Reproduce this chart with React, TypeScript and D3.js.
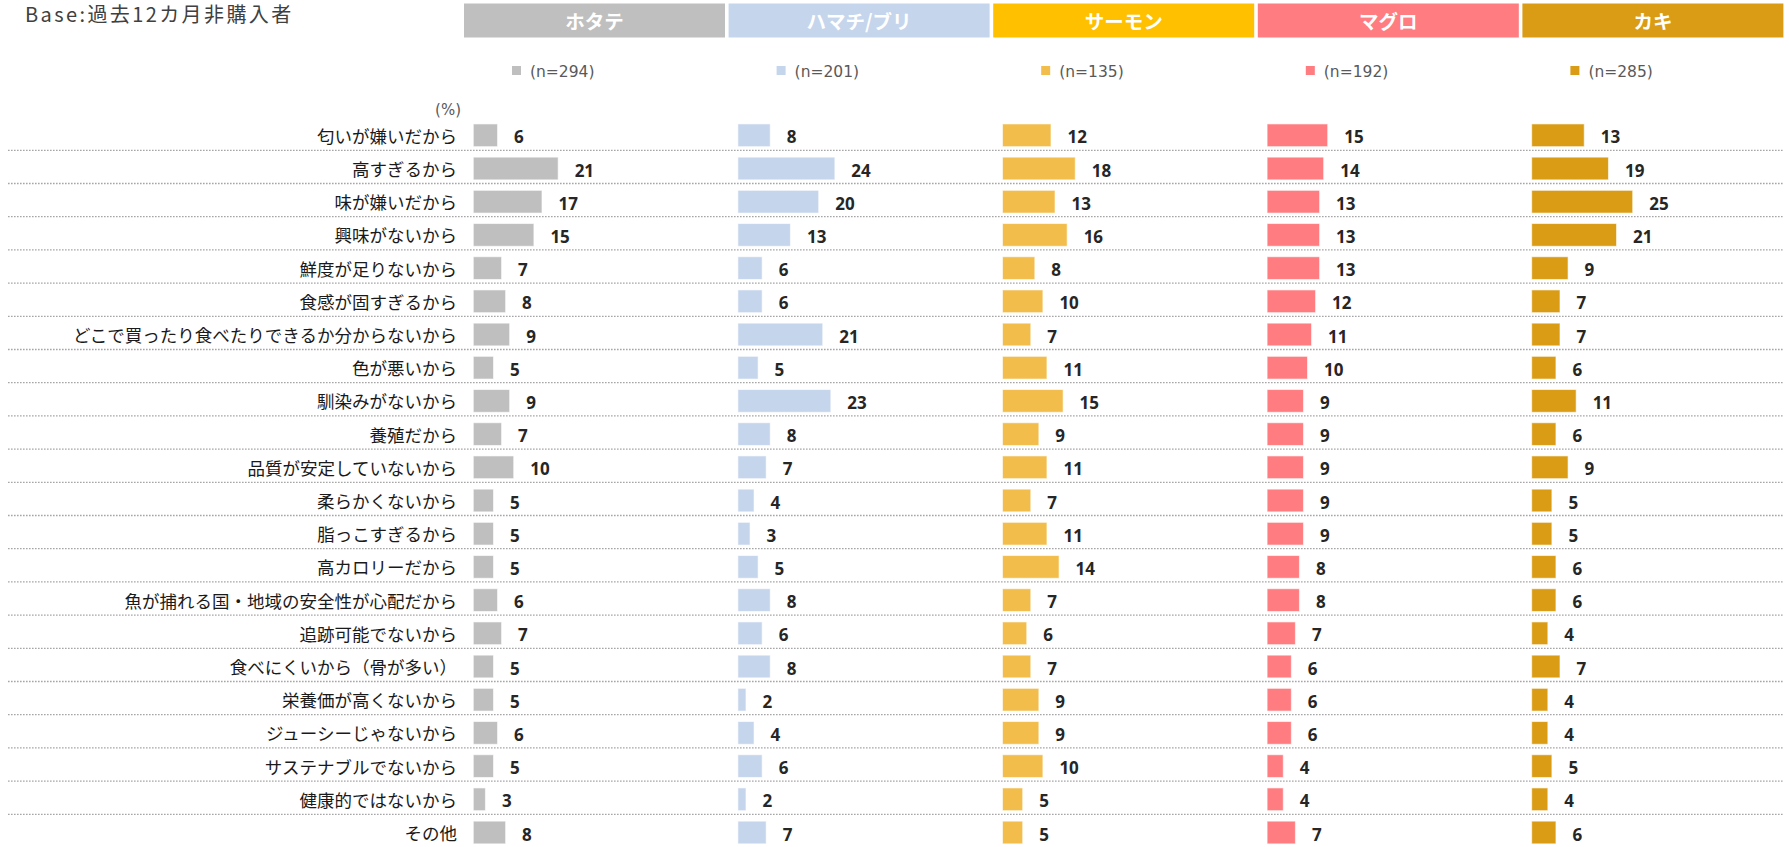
import React, { useEffect, useRef } from 'react';
import * as d3 from 'd3';

const categories = [
  '匂いが嫌いだから',
  '高すぎるから',
  '味が嫌いだから',
  '興味がないから',
  '鮮度が足りないから',
  '食感が固すぎるから',
  'どこで買ったり食べたりできるか分からないから',
  '色が悪いから',
  '馴染みがないから',
  '養殖だから',
  '品質が安定していないから',
  '柔らかくないから',
  '脂っこすぎるから',
  '高カロリーだから',
  '魚が捕れる国・地域の安全性が心配だから',
  '追跡可能でないから',
  '食べにくいから（骨が多い）',
  '栄養価が高くないから',
  'ジューシーじゃないから',
  'サステナブルでないから',
  '健康的ではないから',
  'その他',
];

const seriesNames = ['ホタテ', 'ハマチ/ブリ', 'サーモン', 'マグロ', 'カキ'];
const sampleSizes = ['(n=294)', '(n=201)', '(n=135)', '(n=192)', '(n=285)'];

const hotate = [6, 21, 17, 15, 7, 8, 9, 5, 9, 7, 10, 5, 5, 5, 6, 7, 5, 5, 6, 5, 3, 8];
const hamachi = [8, 24, 20, 13, 6, 6, 21, 5, 23, 8, 7, 4, 3, 5, 8, 6, 8, 2, 4, 6, 2, 7];
const salmon = [12, 18, 13, 16, 8, 10, 7, 11, 15, 9, 11, 7, 11, 14, 7, 6, 7, 9, 9, 10, 5, 5];
const maguro = [15, 14, 13, 13, 13, 12, 11, 10, 9, 9, 9, 9, 9, 8, 8, 7, 6, 6, 6, 4, 4, 7];
const kaki = [13, 19, 25, 21, 9, 7, 7, 6, 11, 6, 9, 5, 5, 6, 6, 4, 7, 4, 4, 5, 4, 6];

const headerColors = ['#bfbfbf', '#c5d5ec', '#ffc000', '#ff7c80', '#da9c14'];
const barColors = ['#bfbfbf', '#c5d5ec', '#f2bd4b', '#ff7c80', '#da9c14'];

const W = 1789;
const H = 847;
const CJK = '"Noto Sans CJK JP", sans-serif';

const App = () => {
  const ref = useRef<SVGSVGElement>(null);

  useEffect(() => {
    const series = [hotate, hamachi, salmon, maguro, kaki];
    const svg = d3.select(ref.current);
    svg.selectAll('*').remove();

    // panels (one column per fish)
    const panel = d3.scaleBand().domain(seriesNames).range([464, 1783.4]).paddingInner(0.0136).paddingOuter(0);
    const x = d3.scaleLinear().domain([0, 25]).range([0, 101]);
    const y = d3.scaleBand().domain(categories).range([118.7, 118.7 + categories.length * 33.2]).paddingInner(0.316).paddingOuter(0.158);

    svg.append('text')
      .attr('x', 25).attr('y', 22)
      .attr('font-family', CJK).attr('font-size', 20).attr('letter-spacing', 2.4)
      .attr('fill', '#404040')
      .text('Base:過去12カ月非購入者');

    // header boxes
    seriesNames.forEach((name, i) => {
      const px = panel(name)!;
      svg.append('rect')
        .attr('x', px).attr('y', 3.5).attr('width', panel.bandwidth()).attr('height', 34)
        .attr('fill', headerColors[i]);
      svg.append('text')
        .attr('x', px + panel.bandwidth() / 2).attr('y', 20.5)
        .attr('text-anchor', 'middle').attr('dominant-baseline', 'central')
        .attr('font-family', CJK).attr('font-weight', 700).attr('font-size', 19.5).attr('fill', '#fff')
        .text(name);

      // legend
      svg.append('rect')
        .attr('x', px + 48).attr('y', 66).attr('width', 9).attr('height', 9)
        .attr('fill', barColors[i]);
      svg.append('text')
        .attr('x', px + 66).attr('y', 76.5)
        .attr('font-family', '"DejaVu Sans", sans-serif').attr('font-size', 15.5).attr('fill', '#595959')
        .text(sampleSizes[i]);
    });

    svg.append('text')
      .attr('x', 461).attr('y', 115).attr('text-anchor', 'end')
      .attr('font-family', '"DejaVu Sans", sans-serif').attr('font-size', 15).attr('fill', '#595959')
      .text('(%)');

    // dotted row separators
    svg.append('g').selectAll('line')
      .data(categories.slice(0, -1))
      .enter().append('line')
      .attr('x1', 8).attr('x2', 1784)
      .attr('y1', (d) => y(d)! + y.bandwidth() / 2 + 15)
      .attr('y2', (d) => y(d)! + y.bandwidth() / 2 + 15)
      .attr('stroke', '#a6a6a6').attr('stroke-width', 1.3).attr('stroke-dasharray', '1.6 1.4');

    // category labels
    svg.append('g').selectAll('text')
      .data(categories)
      .enter().append('text')
      .attr('x', 457).attr('y', (d) => y(d)! + y.bandwidth() / 2)
      .attr('text-anchor', 'end').attr('dominant-baseline', 'central')
      .attr('font-family', CJK).attr('font-size', 17.5).attr('fill', '#1a1a1a')
      .text((d) => d);

    // bars + value labels
    series.forEach((vals, i) => {
      const x0 = panel(seriesNames[i])! + 9.3;
      const g = svg.append('g');
      g.selectAll('rect')
        .data(vals)
        .enter().append('rect')
        .attr('x', x0)
        .attr('y', (_, j) => y(categories[j])!)
        .attr('width', (d) => x(d))
        .attr('height', y.bandwidth())
        .attr('fill', barColors[i])
        .attr('stroke', '#ffffff').attr('stroke-opacity', 0.6).attr('stroke-width', 1);
      g.selectAll('text')
        .data(vals)
        .enter().append('text')
        .attr('x', (d) => x0 + x(d) + 16.5)
        .attr('y', (_, j) => y(categories[j])! + y.bandwidth() / 2 + 8)
        .attr('font-family', '"Open Sans", sans-serif').attr('font-weight', 700).attr('font-size', 17)
        .attr('fill', '#262626')
        .text((d) => d3.format('d')(d));
    });
  }, []);

  return (
    <div style={{ position: 'absolute', left: 0, top: 0, width: W, height: H, background: '#fff' }}>
      <svg ref={ref} width={W} height={H} style={{ display: 'block' }} />
    </div>
  );
};

export default App;
